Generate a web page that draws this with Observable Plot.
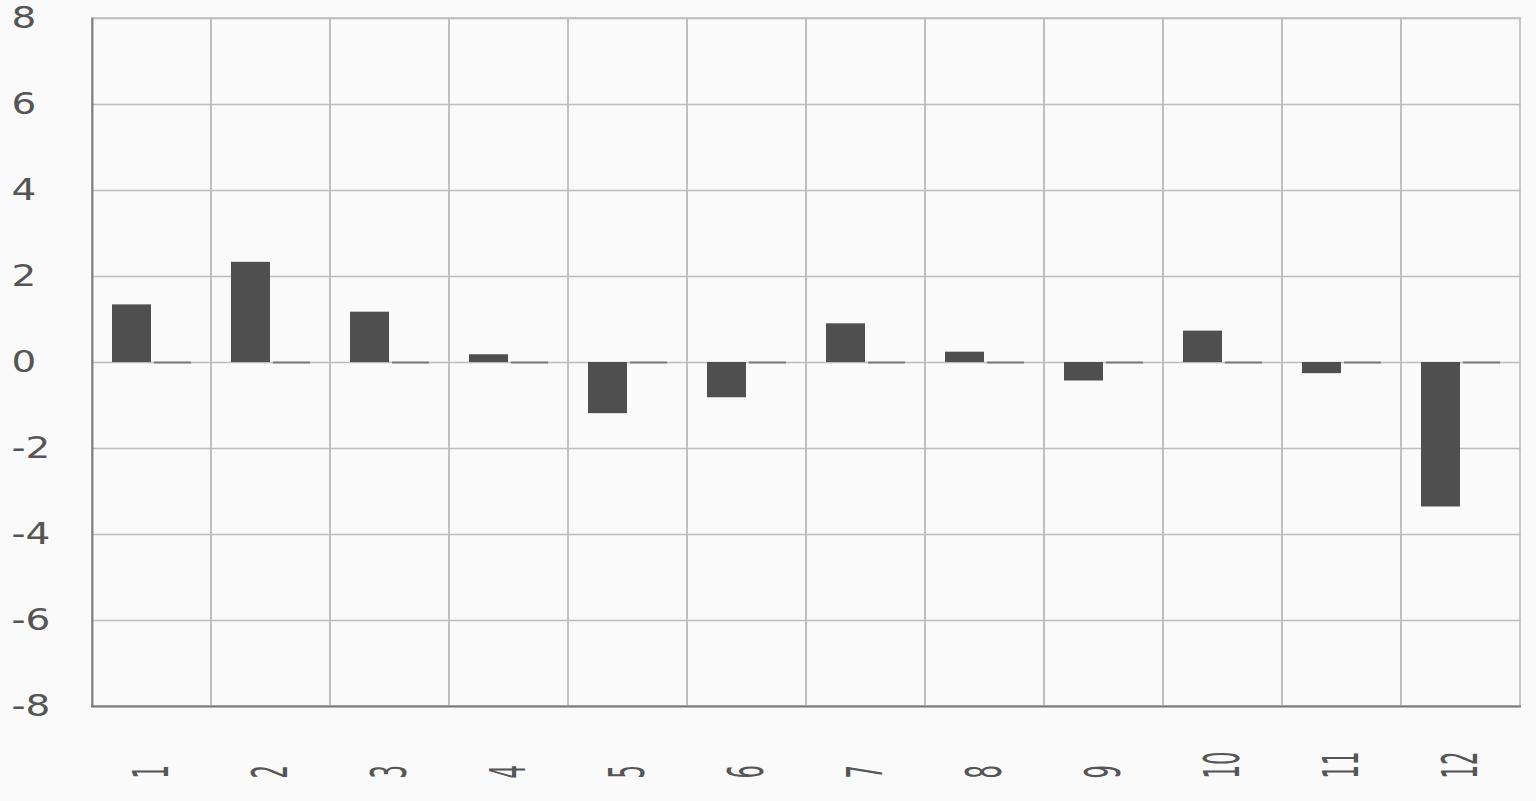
<!DOCTYPE html>
<html>
<head>
<meta charset="utf-8">
<script src="https://cdn.jsdelivr.net/npm/d3@7"></script>
<script src="https://cdn.jsdelivr.net/npm/@observablehq/plot@0.6"></script>
<style>
  html, body { margin: 0; padding: 0; background: #fafafa; }
  #chart svg { display: block; background: #fafafa; }
</style>
</head>
<body>
<div id="chart"></div>
<script>
const categories = ["1","2","3","4","5","6","7","8","9","10","11","12"];
const seriesA = [1.34, 2.33, 1.17, 0.18, -1.19, -0.82, 0.90, 0.24, -0.43, 0.73, -0.26, -3.36];
const seriesB = [0, 0, 0, 0, 0, 0, 0, 0, 0, 0, 0, 0];
const yTicks = [-8, -6, -4, -2, 0, 2, 4, 6, 8];

const dataA = categories.map((c, i) => ({cat: c, value: seriesA[i]}));
const dataB = categories.map((c, i) => ({cat: c, value: seriesB[i]}));
const cells = categories.map(c => ({cat: c}));

const chart = Plot.plot({
  width: 1536,
  height: 801,
  marginLeft: 91,
  marginRight: 15,
  marginTop: 18,
  marginBottom: 95,
  style: {background: "#fafafa", fontFamily: "DejaVu Sans, sans-serif"},
  x: {domain: categories, padding: 0, label: null},
  y: {domain: [-8, 8], ticks: yTicks, label: null},
  marks: [
    Plot.gridY(yTicks, {stroke: "#bdbdbd", strokeOpacity: 1, strokeWidth: 1.6}),
    Plot.barY(cells, {x: "cat", y1: -8, y2: 8, fill: "none", stroke: "#bdbdbd", strokeWidth: 1.6}),
    Plot.barY(dataA, {x: "cat", y: "value", fill: "#4f4f4f", insetLeft: 20, insetRight: 60}),
    Plot.tickY(dataB, {x: "cat", y: "value", stroke: "#7a7a7a", strokeWidth: 2, insetLeft: 62, insetRight: 20}),
    Plot.ruleX([categories[0]], {stroke: "#7a7a7a", strokeWidth: 2, y1: -8, y2: 8, dx: -59.6}),
    Plot.ruleY([-8], {stroke: "#7a7a7a", strokeWidth: 2}),
    Plot.axisY(yTicks, {tickSize: 0, textAnchor: "start", dx: -71, fontSize: 30, fill: "#555", tickFormat: d => String(d)}),
    Plot.axisX({tickSize: 0, tickRotate: -90, textAnchor: "start", dy: 63, fontSize: 34, fill: "#555"})
  ]
});
document.getElementById("chart").appendChild(chart);

// stretch glyphs horizontally like the reference
chart.querySelectorAll('[aria-label="y-axis tick label"] text').forEach(t => {
  t.setAttribute("transform", (t.getAttribute("transform") || "") + " scale(1.3,1)");
});
chart.querySelectorAll('[aria-label="x-axis tick label"] text').forEach(t => {
  t.setAttribute("transform", (t.getAttribute("transform") || "") + " scale(0.62,1.45)");
});
</script>
</body>
</html>
